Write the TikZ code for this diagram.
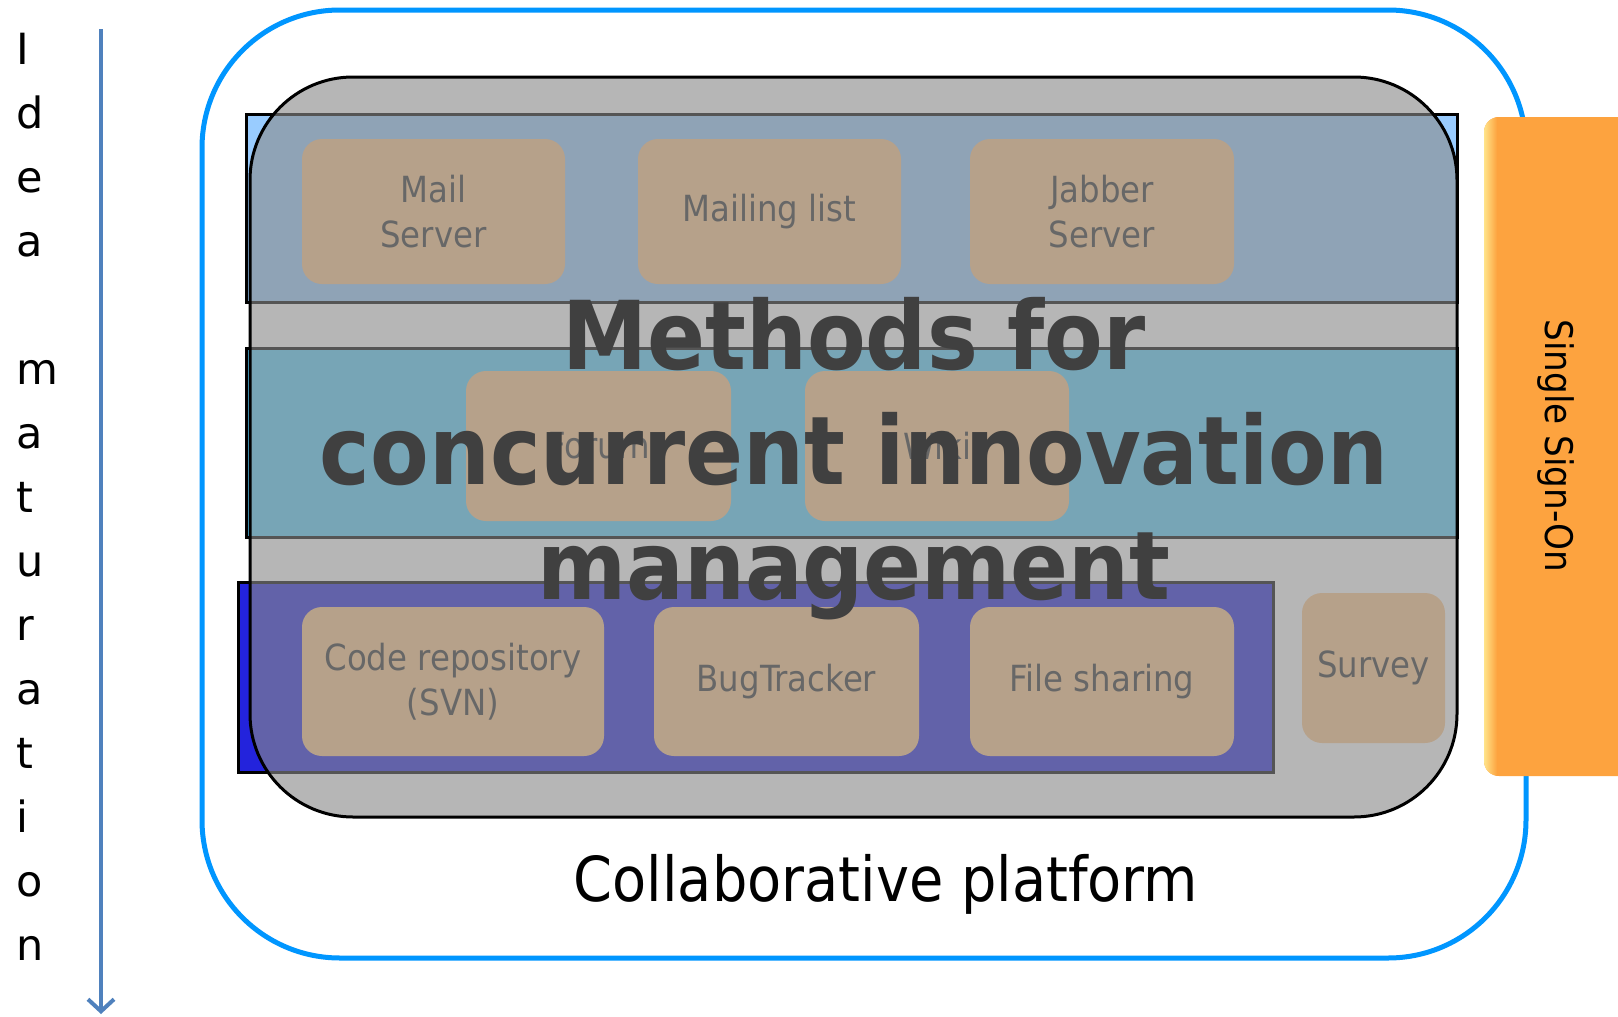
\documentclass[tikz,border=0pt]{standalone}
\usepackage{fontspec}
\usetikzlibrary{arrows.meta}
\newfontfamily\condfont{DejaVu Sans Condensed}
\newfontfamily\dvsans{DejaVu Sans}
\definecolor{outerblue}{HTML}{0096FF}
\definecolor{toplayer}{HTML}{99CCFF}
\definecolor{midlayer}{HTML}{5AD2FF}
\definecolor{botlayer}{HTML}{2323DC}
\definecolor{overlaygray}{HTML}{8A8A8A}
\definecolor{toolfill}{HTML}{FFC88C}
\definecolor{tooltext}{HTML}{303030}
\definecolor{ssofill}{HTML}{FDA33F}
\definecolor{ssolight}{HTML}{FFE48A}
\definecolor{arrowblue}{HTML}{4F81BD}
\definecolor{bigtext}{HTML}{404040}
\tikzset{
  layerbox/.style={draw=black, line width=3pt},
  tool/.style={rectangle, rounded corners=20pt, fill=toolfill, draw=none,
    text=tooltext, font=\condfont\fontsize{36}{45}\selectfont, align=center,
    inner sep=0pt},
}
\begin{document}
\begin{tikzpicture}[x=1pt, y=-1pt]
\useasboundingbox (0,0) rectangle (1618,1017);
\fill[white] (0,0) rectangle (1618,1017);

% outer collaborative platform frame
\draw[outerblue, line width=5pt, rounded corners=138pt] (202,10) rectangle (1526,958);

% layers
\draw[layerbox, fill=toplayer] (246,114) rectangle (1457,302);
\draw[layerbox, fill=midlayer] (246,348) rectangle (1457,537);
\draw[layerbox, fill=botlayer] (238,582) rectangle (1273,772);

% tools
\node[tool, minimum width=263pt, minimum height=145pt] (mail) at (433.5,211.5) {Mail\\Server};
\node[tool, minimum width=263pt, minimum height=145pt] (mlist) at (769.5,211.5) {Mailing list};
\node[tool, minimum width=264pt, minimum height=145pt] (jabber) at (1102,211.5) {Jabber\\Server};
\node[tool, minimum width=265pt, minimum height=150pt] (forum) at (598.5,446) {Forum};
\node[tool, minimum width=264pt, minimum height=150pt] (wiki) at (937,446) {Wiki};
\node[tool, minimum width=302pt, minimum height=149pt] (svn) at (453,681.5) {Code repository\\(SVN)};
\node[tool, minimum width=265pt, minimum height=149pt] (bug) at (786.5,681.5) {BugTracker};
\node[tool, minimum width=264pt, minimum height=149pt] (files) at (1102,681.5) {File sharing};
\node[tool, minimum width=143pt, minimum height=150pt] (survey) at (1373.5,668) {Survey};

% methods overlay
\draw[black, line width=3pt, fill=overlaygray, fill opacity=0.62, rounded corners=103pt]
  (250,77) rectangle (1457,817);
\node[text=bigtext, font=\condfont\bfseries\fontsize{95}{115}\selectfont, align=center, inner sep=0pt]
  (methods) at (854,459) {Methods for\\concurrent innovation\\management};

% platform label
\node[anchor=base, inner sep=0pt, font=\condfont\fontsize{62}{70}\selectfont] (platform) at (886,901) {Collaborative platform};

% single sign-on
\fill[ssofill, rounded corners=15pt] (1484,117) rectangle (1660,776);
\begin{scope}
  \clip[rounded corners=15pt] (1484,117) rectangle (1660,776);
  \shade[left color=ssolight, right color=ssofill] (1484,117) rectangle (1497,776);
\end{scope}
\node[rotate=-90, inner sep=0pt, font=\condfont\fontsize{38}{44}\selectfont] (sso) at (1556,446) {Single Sign-On};

% idea maturation
\node[anchor=north west, align=left, inner sep=0pt, font=\dvsans\fontsize{43}{64}\selectfont]
  (idea) at (16,33) {I\\d\\e\\a\\\mbox{}\\m\\a\\t\\u\\r\\a\\t\\i\\o\\n};
\coordinate (atop) at (101,29);
\coordinate (abot) at (101,1014);
\draw[arrowblue, line width=4pt, -{Straight Barb[length=12pt, width=26pt]}] (atop) -- (abot);
\end{tikzpicture}
\end{document}
